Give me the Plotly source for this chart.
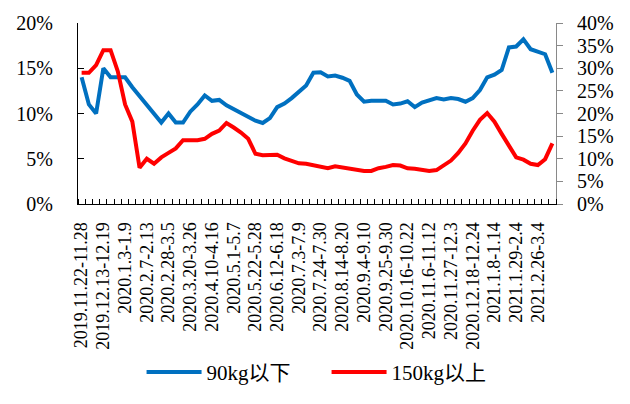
import plotly.graph_objects as go

# Weekly share of slaughtered hogs by weight class (%)
week_labels = [
    "2019.11.22-11.28", "2019.12.13-12.19", "2020.1.3-1.9", "2020.2.7-2.13",
    "2020.2.28-3.5", "2020.3.20-3.26", "2020.4.10-4.16", "2020.5.1-5.7",
    "2020.5.22-5.28", "2020.6.12-6.18", "2020.7.3-7.9", "2020.7.24-7.30",
    "2020.8.14-8.20", "2020.9.4-9.10", "2020.9.25-9.30", "2020.10.16-10.22",
    "2020.11.6-11.12", "2020.11.27-12.3", "2020.12.18-12.24", "2021.1.8-1.14",
    "2021.1.29-2.4", "2021.2.26-3.4",
]

below_90kg = [
    14.0, 11.0, 10.0, 15.0, 14.0, 14.0, 14.0, 12.9, 11.9, 11.0,
    10.0, 9.0, 10.0, 9.0, 9.0, 10.2, 11.0, 12.0, 11.4, 11.5,
    10.9, 10.5, 10.1, 9.6, 9.2, 8.95, 9.5, 10.7, 11.1, 11.7,
    12.4, 13.1, 14.5, 14.55, 14.1, 14.2, 13.95, 13.6, 12.1, 11.3,
    11.4, 11.45, 11.4, 11.0, 11.1, 11.35, 10.7, 11.2, 11.4, 11.7,
    11.55, 11.7, 11.6, 11.3, 11.7, 12.6, 14.0, 14.3, 14.8, 17.3,
    17.4, 18.2, 17.1, 16.8, 16.55, 14.5,
]

above_150kg = [
    29.0, 29.0, 30.7, 34.0, 34.0, 29.3, 22.0, 18.2, 8.0, 10.0,
    8.9, 10.3, 11.3, 12.3, 14.1, 14.1, 14.1, 14.4, 15.5, 16.2,
    17.9, 16.9, 15.8, 14.4, 11.1, 10.8, 10.8, 10.9, 10.1, 9.6,
    9.0, 8.9, 8.6, 8.1, 7.9, 8.35, 8.1, 7.9, 7.7, 7.3,
    7.3, 7.9, 8.2, 8.6, 8.5, 7.9, 7.8, 7.6, 7.3, 7.5,
    8.6, 9.6, 11.3, 13.4, 16.2, 18.6, 20.1, 18.2, 15.5, 12.7,
    10.3, 9.8, 8.9, 8.6, 9.9, 13.4,
]

week_index = list(range(len(below_90kg)))
label_index = week_index[::3]

FONT = "'Liberation Serif', 'Noto Sans CJK SC', serif"

fig = go.Figure()
fig.add_trace(go.Scatter(
    x=week_index, y=below_90kg, name="90kg以下", mode="lines",
    line=dict(color="#0070C0", width=4), yaxis="y",
))
fig.add_trace(go.Scatter(
    x=week_index, y=above_150kg, name="150kg以上", mode="lines",
    line=dict(color="#FF0000", width=4), yaxis="y2",
))

fig.update_layout(
    width=630, height=404,
    margin=dict(l=78, r=74, t=15, b=196),
    paper_bgcolor="white", plot_bgcolor="white",
    font=dict(family=FONT, size=20, color="black"),
    showlegend=True,
    legend=dict(
        orientation="h", x=0.52, xanchor="center", y=-0.93, yanchor="middle",
        font=dict(size=21), itemwidth=55, entrywidth=115, tracegroupgap=0,
    ),
    xaxis=dict(
        range=[-0.5, len(week_index) - 0.5],
        tickmode="array", tickvals=label_index, ticktext=week_labels,
        tickangle=-90, tickfont=dict(size=18), ticks="",
        showline=True, linecolor="black", linewidth=1,
        showgrid=False, zeroline=False, ticklabelstandoff=10,
        minor=dict(tickmode="linear", tick0=-0.5, dtick=1, ticks="inside",
                   ticklen=5, tickcolor="black", showgrid=False),
    ),
    yaxis=dict(
        range=[0, 20], dtick=5, ticksuffix="%",
        showline=True, linecolor="black", linewidth=1,
        ticks="inside", ticklen=6, tickcolor="black",
        showgrid=False, zeroline=False, ticklabelstandoff=20,
    ),
    yaxis2=dict(
        range=[0, 40], dtick=5, ticksuffix="%", overlaying="y", side="right",
        showline=True, linecolor="#898989", linewidth=1,
        ticks="outside", ticklen=6, tickcolor="#898989",
        showgrid=False, zeroline=False, ticklabelstandoff=10,
    ),
)

fig.write_html("out.html")
